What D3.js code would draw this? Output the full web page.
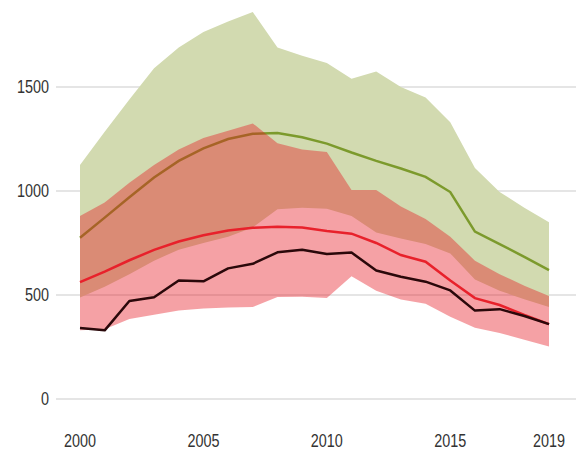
<!DOCTYPE html>
<html>
<head>
<meta charset="utf-8">
<script src="https://cdn.jsdelivr.net/npm/d3@7"></script>
<style>
  body { margin: 0; background: #fff; }
  text { font-family: 'Liberation Sans', Arial, sans-serif; }
</style>
</head>
<body>
<script>
// data
const years = d3.range(2000, 2020)
const observed = [341, 330, 471, 489, 570, 566, 628, 650, 705, 718, 697, 704, 618, 588, 564, 522, 425, 432, 399, 360]
const redMid = [562, 612, 667, 717, 757, 787, 810, 823, 828, 825, 808, 795, 750, 692, 660, 570, 485, 452, 404, 360]
const redUpper = [880, 945, 1040, 1125, 1200, 1255, 1290, 1325, 1230, 1200, 1188, 1005, 1005, 925, 865, 780, 665, 600, 545, 495]
const redLower = [330, 335, 385, 405, 425, 435, 440, 442, 490, 492, 486, 590, 520, 478, 458, 395, 342, 317, 285, 252]
const greenMid = [775, 872, 970, 1065, 1145, 1205, 1250, 1275, 1279, 1258, 1228, 1185, 1145, 1108, 1068, 995, 805, 745, 683, 620]
const greenUpper = [1125, 1285, 1440, 1590, 1690, 1765, 1815, 1860, 1690, 1650, 1615, 1540, 1575, 1500, 1450, 1330, 1110, 995, 920, 850]
const greenLower = [488, 540, 600, 665, 718, 750, 780, 825, 912, 920, 915, 880, 800, 772, 745, 700, 575, 520, 480, 442]
const yTicks = [0, 500, 1000, 1500]
const xTicks = [2000, 2005, 2010, 2015, 2019]

const w = 576
const h = 451

const svg = d3.select('body')
    .append('svg')
    .attr('width', w)
    .attr('height', h)

const x = d3.scaleLinear().domain([2000, 2019]).range([80, 549])
const y = d3.scaleLinear().domain([0, 1500]).range([399, 87])

// gridlines + y labels
svg.append('g')
    .selectAll('line')
    .data(yTicks)
    .enter()
    .append('line')
    .attr('x1', 56)
    .attr('x2', w)
    .attr('y1', d => y(d))
    .attr('y2', d => y(d))
    .attr('stroke', '#dcdcdc')
    .attr('stroke-width', 1.5)

// labels are narrow in the original, so squeeze them a bit
svg.append('g')
    .selectAll('text')
    .data(yTicks)
    .enter()
    .append('text')
    .attr('transform', d => `translate(49,${y(d)}) scale(0.8,1)`)
    .attr('dy', '0.36em')
    .attr('text-anchor', 'end')
    .style('font-size', '18px')
    .attr('fill', '#333')
    .text(d => d)

// x labels
svg.append('g')
    .selectAll('text')
    .data(xTicks)
    .enter()
    .append('text')
    .attr('transform', d => `translate(${x(d)},447) scale(0.8,1)`)
    .attr('text-anchor', 'middle')
    .style('font-size', '18px')
    .attr('fill', '#333')
    .text(d => d)

const band = (lo, hi) => d3.area()
    .x((d, i) => x(years[i]))
    .y0((d, i) => y(lo[i]))
    .y1((d, i) => y(hi[i]))(years)

const line = vals => d3.line()
    .x((d, i) => x(years[i]))
    .y(d => y(d))(vals)

// green range
svg.append('path')
    .attr('d', band(greenLower, greenUpper))
    .attr('fill', '#d2dab0')

svg.append('path')
    .attr('d', line(greenMid))
    .attr('fill', 'none')
    .attr('stroke', '#7c9a2c')
    .attr('stroke-width', 2.5)

// red range drawn over it (see-through)
svg.append('path')
    .attr('d', band(redLower, redUpper))
    .attr('fill', 'rgb(230,20,30)')
    .attr('fill-opacity', 0.4)

svg.append('path')
    .attr('d', line(redMid))
    .attr('fill', 'none')
    .attr('stroke', '#e8212b')
    .attr('stroke-width', 2.5)

// observed
svg.append('path')
    .attr('d', line(observed))
    .attr('fill', 'none')
    .attr('stroke', '#2a080a')
    .attr('stroke-width', 2.5)
    .attr('stroke-linejoin', 'round')
</script>
</body>
</html>
